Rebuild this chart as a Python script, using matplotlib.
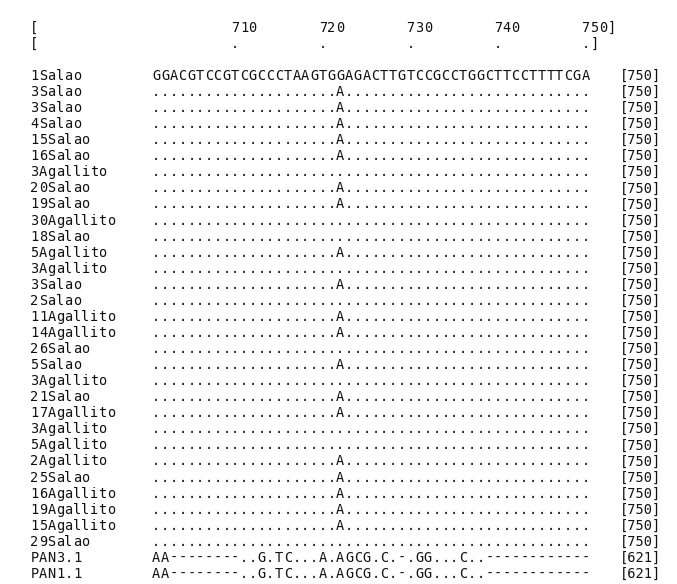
import matplotlib
matplotlib.use('Agg')
import matplotlib.pyplot as plt

# alignment window 701-750
start_pos = 701
ticks = [710, 720, 730, 740, 750]

reference = 'GGACGTCCGTCGCCCTAAGTGGAGACTTGTCCGCCTGGCTTCCTTTTCGA'
seq_a = '.....................A............................'   # G->A at 722
seq_dot = '..................................................'
seq_pan = 'AA--------..G.TC...A.AGCG.C.-.GG...C..------------'

names = ['1Salao', '3Salao', '3Salao', '4Salao', '15Salao', '16Salao', '3Agallito',
         '20Salao', '19Salao', '30Agallito', '18Salao', '5Agallito', '3Agallito',
         '3Salao', '2Salao', '11Agallito', '14Agallito', '26Salao', '5Salao',
         '3Agallito', '21Salao', '17Agallito', '3Agallito', '5Agallito', '2Agallito',
         '25Salao', '16Agallito', '19Agallito', '15Agallito', '29Salao',
         'PAN3.1', 'PAN1.1']
seqs = [reference,
        seq_a, seq_a, seq_a, seq_a, seq_a, seq_dot, seq_a, seq_a, seq_dot, seq_dot,
        seq_a, seq_dot, seq_a, seq_dot, seq_a, seq_a, seq_dot, seq_a, seq_dot,
        seq_a, seq_a, seq_dot, seq_dot, seq_a, seq_a, seq_a, seq_a, seq_a, seq_dot,
        seq_pan, seq_pan]
lengths = ['750'] * 30 + ['621', '621']

fig = plt.figure(figsize=(6.77, 5.84), dpi=100)
ax = fig.add_axes([0, 0, 1, 1])
ax.set_xlim(-17.35, 59.93)
ax.set_ylim(31.63, -4.73)
ax.axis('off')

font = dict(family='DejaVu Sans Mono', fontsize=9.8, color='#111111', va='center')
name_x = -13.9
len_x = 53.4

# header lines
ax.text(name_x, -3, '[', ha='left', **font)
ax.text(name_x, -2, '[', ha='left', **font)
for t in ticks:
    col = t - start_pos
    label = str(t) + (']' if t == ticks[-1] else '')
    for k, ch in enumerate(label):
        ax.text(col + k + 0.5, -3, ch, ha='center', **font)
    ax.text(col + 0.5, -2, '.', ha='center', **font)
ax.text(len(reference) + 0.5, -2, ']', ha='center', **font)

# alignment rows
for i, (name, s, ln) in enumerate(zip(names, seqs, lengths)):
    for k, ch in enumerate(name):
        ax.text(name_x + 0.97 * k + 0.5, i, ch, ha='center', **font)
    for j, ch in enumerate(s):
        ax.text(j + 0.5, i, ch, ha='center', **font)
    ax.text(len_x, i, '[' + ln + ']', ha='left', **font)

fig.savefig('out.png', dpi=100, facecolor='white')
